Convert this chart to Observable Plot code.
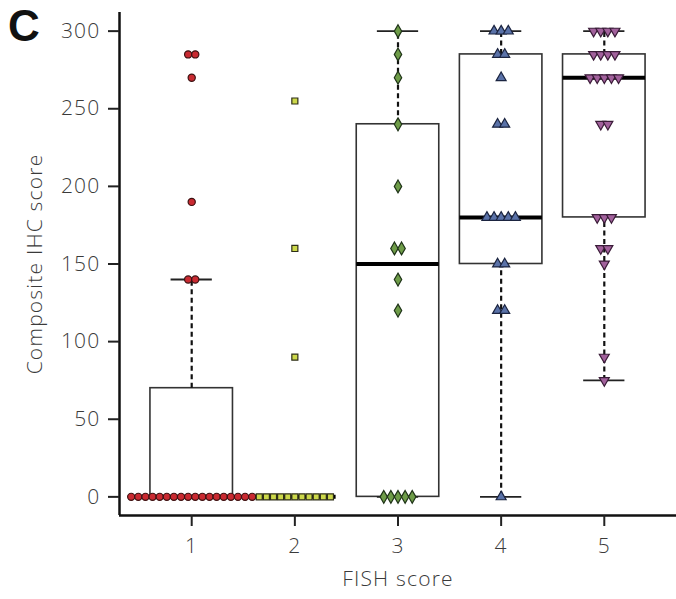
<!DOCTYPE html>
<html><head><meta charset="utf-8">
<script src="https://cdn.jsdelivr.net/npm/d3@7"></script>
<script src="https://cdn.jsdelivr.net/npm/@observablehq/plot@0.6"></script>
<style>
html,body{margin:0;padding:0;background:#fff;}
#wrap{position:relative;width:676px;height:599px;}
#panel{position:absolute;left:8px;top:1px;font:bold 44px "Liberation Sans",Arial,sans-serif;color:#111;}
</style></head><body>
<div id="wrap"><div id="panel">C</div></div>
<script>
// FISH score categories and axis ticks
const fishScores = [1, 2, 3, 4, 5];
const ihcTicks = [0, 50, 100, 150, 200, 250, 300];

// Composite IHC scores per FISH score group
const ihcFish1 = [0,0,0,0,0,0,0,0,0,0,0,0,0,0,0,0,0,0, 140,140,190,270,285,285];
const ihcFish2 = [0,0,0,0,0,0,0,0,0,0,0, 90,160,255];
const ihcFish3 = [0,0,0,0,0, 120,140,160,160,200,240,270,285,300];
const ihcFish4 = [0, 120,120, 150,150, 180,180,180,180,180, 240,240, 270, 285,285, 300,300,300];
const ihcFish5 = [75, 90, 150, 160,160, 180,180,180, 240,240, 270,270,270,270,270, 285,285,285,285, 300,300,300,300];

// Box-plot statistics as drawn
const boxQ1 = [0, 0, 0, 150, 180];
const boxMedian = [0, 0, 150, 180, 270];
const boxQ3 = [70, 0, 240, 285, 285];
const whiskerLow = [0, 0, 0, 0, 75];
const whiskerHigh = [140, 0, 300, 300, 300];

// colours
const fillColors = ["#c92a31", "#ccd84a", "#6e9c48", "#5a72a8", "#a2619c"];
const strokeColors = ["#3c1212", "#2e2e18", "#1f3318", "#1b2440", "#3a1c38"];

const xDomain = [0.3, 5.7];
const yDomain = [-12, 312];
const halfBox = 0.4, halfCap = 0.2, slotWidth = 0.069;

const boxes = fishScores.map((f, i) => ({
  fish: f, q1: boxQ1[i], med: boxMedian[i], q3: boxQ3[i], lo: whiskerLow[i], hi: whiskerHigh[i]
}));

function swarm(fish, values) {
  const counts = d3.rollup(values, v => v.length, d => d);
  const out = [];
  for (const [v, n] of counts) for (let i = 0; i < n; i++) out.push({fish, ihc: v, x: fish + (i - (n - 1) / 2) * slotWidth});
  return out;
}
const pts = [ihcFish1, ihcFish2, ihcFish3, ihcFish4, ihcFish5].map((vals, i) => swarm(fishScores[i], vals));

const triDown = {
  draw(context, size) {
    const y = -Math.sqrt(size / (Math.sqrt(3) * 3));
    context.moveTo(0, -2 * y);
    context.lineTo(Math.sqrt(3) * y, y);
    context.lineTo(-Math.sqrt(3) * y, y);
    context.closePath();
  }
};
const symbols = ["circle", "square", "diamond", "triangle", triDown];
const radii = [3.6, 3.4, 3.9, 3.7, 3.7];

const chart = Plot.plot({
  width: 676, height: 599,
  marginLeft: 119, marginRight: 0, marginTop: 12, marginBottom: 84,
  style: {fontFamily: "'Open Sans', 'Liberation Sans', sans-serif", fontSize: "21px", fontWeight: 300, letterSpacing: "1.2px", color: "#222", background: "#fff"},
  x: {domain: xDomain},
  y: {domain: yDomain},
  marks: [
    Plot.rect(boxes, {x1: d => d.fish - halfBox, x2: d => d.fish + halfBox, y1: "q1", y2: "q3", fill: "white", stroke: "#333", strokeWidth: 1.6}),
    Plot.ruleX(boxes, {x: "fish", y1: "q3", y2: "hi", stroke: "#111", strokeWidth: 2.2, strokeDasharray: "5,3.5"}),
    Plot.ruleX(boxes, {x: "fish", y1: "lo", y2: "q1", stroke: "#111", strokeWidth: 2.2, strokeDasharray: "5,3.5"}),
    Plot.ruleY(boxes, {y: "hi", x1: d => d.fish - halfCap, x2: d => d.fish + halfCap, stroke: "#222", strokeWidth: 1.8}),
    Plot.ruleY(boxes, {y: "lo", x1: d => d.fish - halfCap, x2: d => d.fish + halfCap, stroke: "#222", strokeWidth: 1.8}),
    Plot.ruleY(boxes, {y: "med", x1: d => d.fish - halfBox, x2: d => d.fish + halfBox, stroke: "#000", strokeWidth: 4}),
    ...pts.map((p, i) => Plot.dot(p, {x: "x", y: "ihc", symbol: symbols[i], r: radii[i], fill: fillColors[i], stroke: strokeColors[i], strokeWidth: 1.2})),
    Plot.ruleX([xDomain[0]], {stroke: "#111", strokeWidth: 2.5}),
    Plot.ruleY([yDomain[0]], {stroke: "#111", strokeWidth: 2.5}),
    Plot.axisY({ticks: ihcTicks, tickSize: 11, tickPadding: 8, strokeWidth: 2, fill: "#3a3a3a", label: "Composite IHC score", labelAnchor: "center", labelOffset: 92, labelArrow: "none"}),
    Plot.axisX({ticks: fishScores, tickFormat: d => d, tickSize: 11, tickPadding: 12, strokeWidth: 2, fill: "#3a3a3a", label: "FISH score", labelAnchor: "center", labelOffset: 70, labelArrow: "none"})
  ]
});
document.getElementById("wrap").prepend(chart);
</script>
</body></html>
